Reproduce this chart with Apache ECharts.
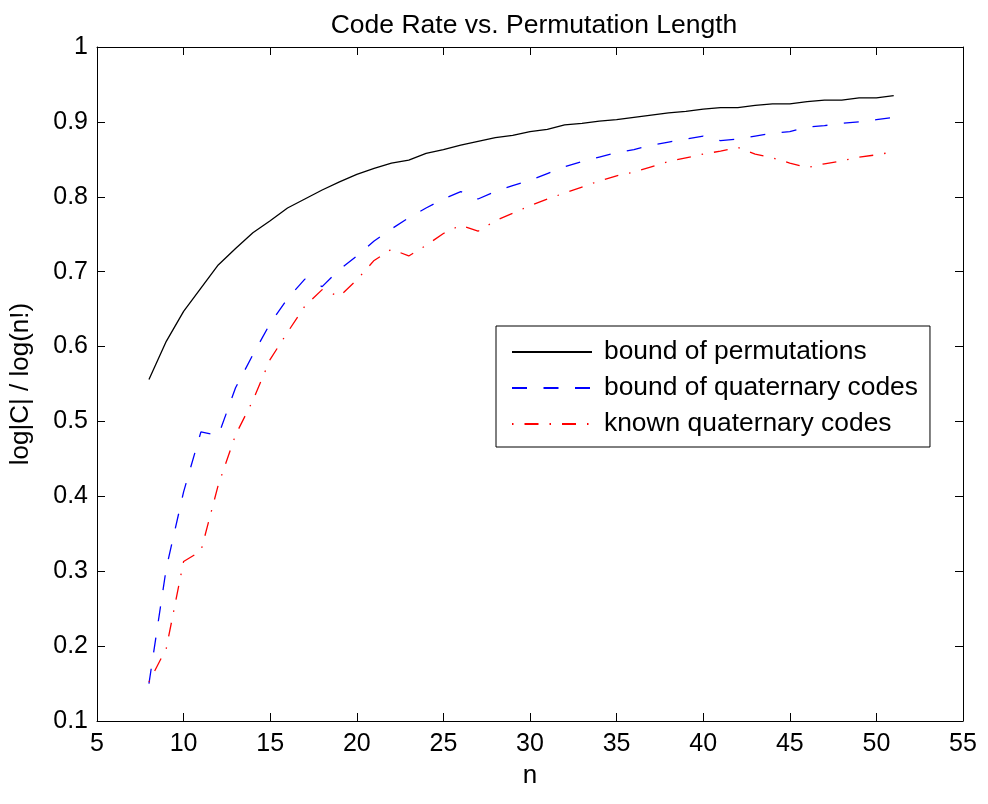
<!DOCTYPE html>
<html>
<head>
<meta charset="utf-8">
<script src="https://cdn.jsdelivr.net/npm/echarts@6/dist/echarts.min.js"></script>
<style>
html,body{margin:0;padding:0;background:#fff;}
#chart{width:988px;height:804px;}
</style>
</head>
<body>
<div id="chart"></div>
<script>
const nValues = [8,9,10,11,12,13,14,15,16,17,18,19,20,21,22,23,24,25,26,27,28,29,30,31,32,33,34,35,36,37,38,39,40,41,42,43,44,45,46,47,48,49,50,51];
const boundPermutations = [0.556,0.607,0.647,0.678,0.709,0.731,0.752,0.768,0.785,0.797,
  0.809,0.820,0.830,0.838,0.845,0.849,0.858,0.863,0.869,0.874,
  0.879,0.882,0.887,0.890,0.896,0.898,0.901,0.903,0.906,0.909,
  0.912,0.914,0.917,0.919,0.919,0.922,0.924,0.924,0.927,0.929,
  0.929,0.932,0.932,0.935];
const boundQuaternary = [0.150,0.304,0.406,0.486,0.481,0.545,0.589,0.631,0.664,0.690,
  0.680,0.703,0.721,0.741,0.757,0.772,0.785,0.797,0.807,0.797,
  0.807,0.815,0.822,0.831,0.840,0.847,0.853,0.859,0.863,0.869,
  0.873,0.877,0.881,0.875,0.877,0.881,0.885,0.887,0.893,0.895,
  0.898,0.900,0.903,0.906];
const knownQuaternary = [0.152,0.197,0.313,0.327,0.415,0.482,0.528,0.583,0.619,0.654,
  0.676,0.667,0.689,0.715,0.730,0.721,0.735,0.751,0.762,0.754,
  0.768,0.778,0.788,0.797,0.805,0.813,0.821,0.828,0.833,0.840,
  0.847,0.852,0.857,0.861,0.866,0.857,0.852,0.845,0.839,0.844,
  0.848,0.853,0.856,0.860];
const seriesNames = ['bound of permutations','bound of quaternary codes','known quaternary codes'];
const titleText = 'Code Rate vs. Permutation Length';
const xLabel = 'n';
const yLabel = 'log|C| / log(n!)';

const FONT = '"Liberation Sans", Arial, Helvetica, sans-serif';
const pair = arr => nValues.map((n,i)=>[n, arr[i]]);

const chart = echarts.init(document.getElementById('chart'), null, {renderer:'canvas'});
const axisLine = {show:true, lineStyle:{color:'#000', width:1}};
const tick = {show:true, inside:true, length:8, lineStyle:{color:'#000', width:1}};
chart.setOption({
  animation:false,
  backgroundColor:'#fff',
  title:{
    text:titleText, left:529, top:7, textAlign:'center',
    textStyle:{fontFamily:FONT, fontSize:26.5, fontWeight:'normal', color:'#000'}
  },
  grid:{left:96, right:25, top:47, bottom:83, containLabel:false},
  legend:{
    orient:'vertical', left:496, top:326,
    data:seriesNames,
    itemWidth:80, itemHeight:14, itemGap:10,
    padding:[13,12,10,15],
    borderColor:'#000', borderWidth:1, backgroundColor:'#fff',
    itemStyle:{opacity:0},
    textStyle:{fontFamily:FONT, fontSize:26.4, color:'#000', padding:[0,0,0,7]}
  },
  xAxis:[{
    type:'value', position:'bottom', min:5, max:55, interval:5,
    axisLine:axisLine, axisTick:tick, splitLine:{show:false},
    axisLabel:{fontFamily:FONT, fontSize:25, color:'#000', margin:11},
    name:xLabel, nameLocation:'middle', nameGap:42,
    nameTextStyle:{fontFamily:FONT, fontSize:26, color:'#000'}
  },{
    type:'value', position:'top', min:5, max:55, interval:5,
    axisLine:axisLine, axisTick:tick, splitLine:{show:false},
    axisLabel:{show:false}
  }],
  yAxis:[{
    type:'value', position:'left', min:0.1, max:1, interval:0.1,
    axisLine:axisLine, axisTick:tick, splitLine:{show:false},
    axisLabel:{fontFamily:FONT, fontSize:25, color:'#000', margin:9},
    name:yLabel, nameLocation:'middle', nameGap:63, nameRotate:90,
    nameTextStyle:{fontFamily:FONT, fontSize:26, color:'#000'}
  },{
    type:'value', position:'right', min:0.1, max:1, interval:0.1,
    axisLine:axisLine, axisTick:tick, splitLine:{show:false},
    axisLabel:{show:false}
  }],
  series:[{
    name:seriesNames[0], type:'line', data:pair(boundPermutations),
    symbol:'none', xAxisIndex:0, yAxisIndex:0,
    lineStyle:{color:'#000000', width:1.3, type:'solid'},
    itemStyle:{color:'#000000'}
  },{
    name:seriesNames[1], type:'line', data:pair(boundQuaternary),
    symbol:'none', xAxisIndex:0, yAxisIndex:0,
    lineStyle:{color:'#0000ff', width:1.3, type:[15,16.5]},
    itemStyle:{color:'#0000ff'}
  },{
    name:seriesNames[2], type:'line', data:pair(knownQuaternary),
    symbol:'none', xAxisIndex:0, yAxisIndex:0,
    lineStyle:{color:'#ff0000', width:1.3, type:[1.5,11,14,11]},
    itemStyle:{color:'#ff0000'}
  }]
});
</script>
</body>
</html>
